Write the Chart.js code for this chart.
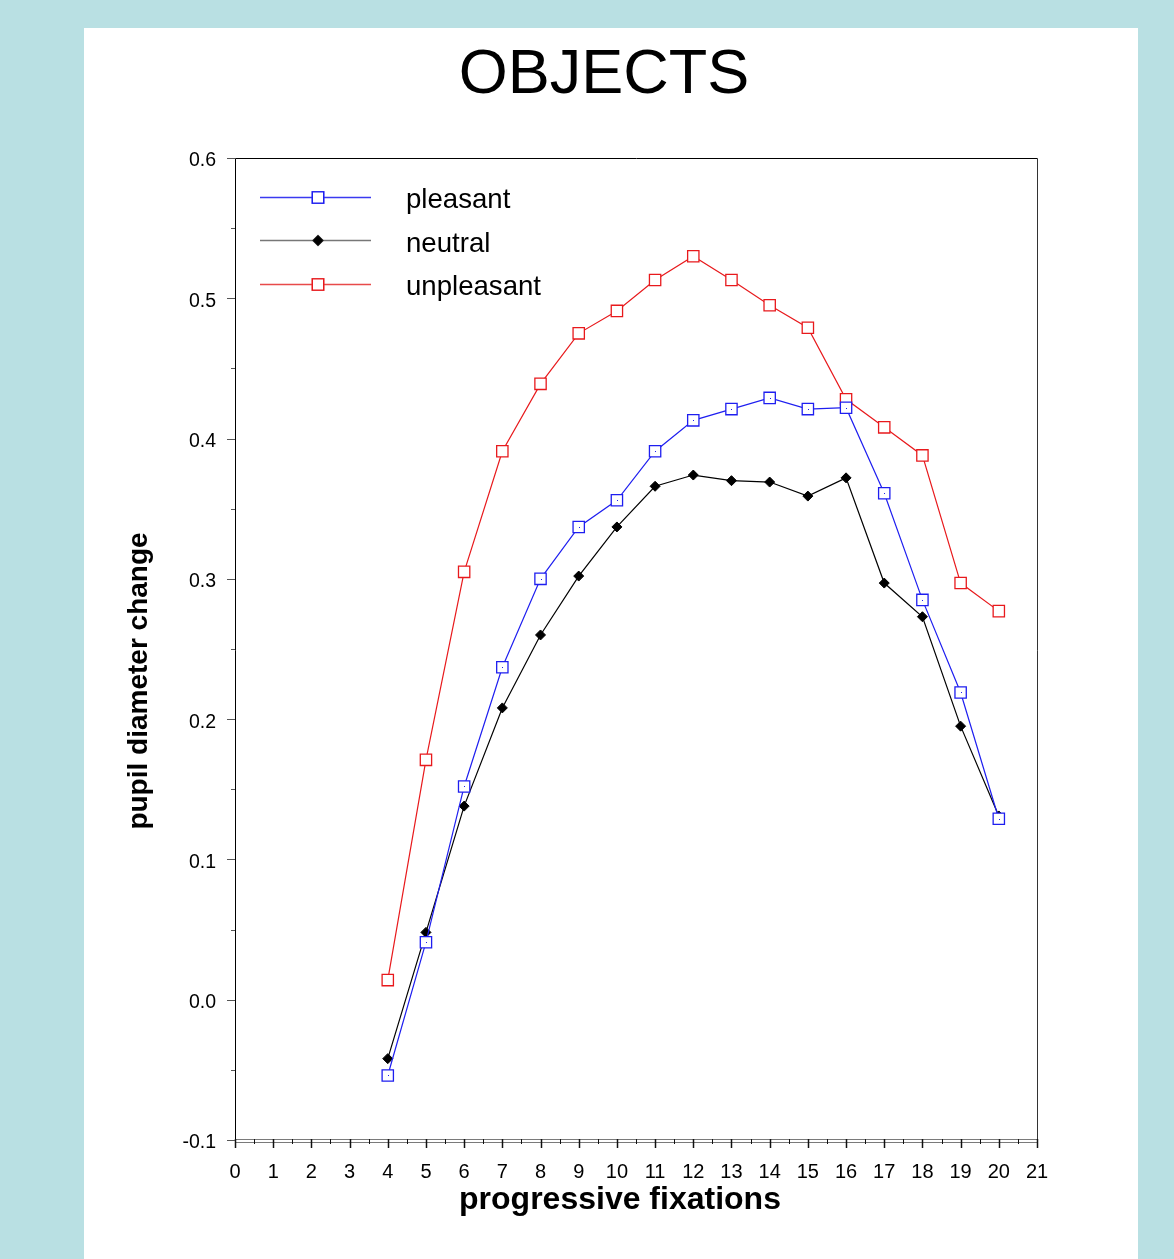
<!DOCTYPE html>
<html>
<head>
<meta charset="utf-8">
<title>OBJECTS</title>
<style>
  html, body { margin: 0; padding: 0; background: #b9e0e3; }
  #wrap { position: relative; width: 1174px; height: 1259px; }
  canvas { display: block; }
</style>
<script src="https://cdn.jsdelivr.net/npm/chart.js@4.4.1/dist/chart.umd.min.js"></script>
</head>
<body>
<div id="wrap"><canvas id="c" width="1174" height="1259"></canvas></div>
<script>
// ---- data ----
const fixations  = [4, 5, 6, 7, 8, 9, 10, 11, 12, 13, 14, 15, 16, 17, 18, 19, 20];
const pleasant   = [-0.054, 0.041, 0.152, 0.237, 0.300, 0.337, 0.356, 0.391, 0.413, 0.421, 0.429, 0.421, 0.422, 0.361, 0.285, 0.219, 0.129];
const neutral    = [-0.042, 0.048, 0.138, 0.208, 0.260, 0.302, 0.337, 0.366, 0.374, 0.370, 0.369, 0.359, 0.372, 0.297, 0.273, 0.195, 0.131];
const unpleasant = [0.014, 0.171, 0.305, 0.391, 0.439, 0.475, 0.491, 0.513, 0.530, 0.513, 0.495, 0.479, 0.428, 0.408, 0.388, 0.297, 0.277];
const seriesNames = ['pleasant', 'neutral', 'unpleasant'];
const xTickValues = [0, 1, 2, 3, 4, 5, 6, 7, 8, 9, 10, 11, 12, 13, 14, 15, 16, 17, 18, 19, 20, 21];
const yTickValues = [-0.1, 0.0, 0.1, 0.2, 0.3, 0.4, 0.5, 0.6];
const chartTitle = 'OBJECTS';
const xTitle = 'progressive fixations';
const yTitle = 'pupil diameter change';

const FONT = '"Liberation Sans", Arial, Helvetica, sans-serif';
const BLUE = '#1e1ef0';
const RED = '#e8191c';
const BLACK = '#000000';

const toPts = arr => arr.map((v, i) => ({ x: fixations[i], y: v }));

// ---- plugins ----
const panelPlugin = {
  id: 'panel',
  beforeDraw(chart) {
    const ctx = chart.ctx;
    ctx.save();
    ctx.fillStyle = '#b9e0e3';
    ctx.fillRect(0, 0, chart.width, chart.height);
    ctx.fillStyle = '#ffffff';
    ctx.fillRect(84, 28, 1054, chart.height - 28);
    ctx.restore();
  }
};

const framePlugin = {
  id: 'frame',
  beforeDatasetsDraw(chart) {
    const ctx = chart.ctx;
    const xs = chart.scales.x, ys = chart.scales.y;
    const L = xs.getPixelForValue(0), R = xs.getPixelForValue(21);
    const T = ys.getPixelForValue(0.6), B = ys.getPixelForValue(-0.1);
    ctx.save();
    ctx.strokeStyle = '#000';
    ctx.lineWidth = 1;
    ctx.beginPath();
    ctx.moveTo(Math.round(L) + 0.5, B + 2);
    ctx.lineTo(Math.round(L) + 0.5, Math.round(T) + 0.5);
    ctx.lineTo(Math.round(R) + 0.5, Math.round(T) + 0.5);
    ctx.stroke();
    ctx.strokeStyle = '#333';
    ctx.beginPath();
    ctx.moveTo(Math.round(R) + 0.5, Math.round(T) + 0.5);
    ctx.lineTo(Math.round(R) + 0.5, B + 3);
    ctx.stroke();
    ctx.strokeStyle = '#7a7a7a';
    ctx.beginPath();
    ctx.moveTo(L, Math.round(B) - 0.5); ctx.lineTo(R, Math.round(B) - 0.5);
    ctx.moveTo(L, Math.round(B) + 2.5); ctx.lineTo(R, Math.round(B) + 2.5);
    ctx.stroke();
    ctx.strokeStyle = '#111';
    for (let v = 0; v <= 21; v += 0.5) {
      const px = Math.round(xs.getPixelForValue(v)) + 0.5;
      const major = Number.isInteger(v);
      ctx.lineWidth = major ? 1.5 : 1;
      ctx.beginPath();
      ctx.moveTo(px, Math.round(B) - 1);
      ctx.lineTo(px, Math.round(B) + (major ? 8 : 4));
      ctx.stroke();
    }
    ctx.strokeStyle = '#555';
    ctx.lineWidth = 1;
    for (let k = -2; k <= 12; k++) {
      const v = k * 0.05;
      const py = Math.round(ys.getPixelForValue(v)) + 0.5;
      const major = (k % 2 === 0);
      ctx.beginPath();
      ctx.moveTo(Math.round(L), py);
      ctx.lineTo(Math.round(L) - (major ? 8 : 4), py);
      ctx.stroke();
    }
    ctx.restore();
  }
};

const dotPlugin = {
  id: 'centerDots',
  afterDatasetsDraw(chart) {
    const ctx = chart.ctx;
    const meta = chart.getDatasetMeta(0);
    ctx.save();
    ctx.fillStyle = BLUE;
    meta.data.forEach(pt => { ctx.fillRect(Math.round(pt.x), Math.round(pt.y), 1, 1); });
    ctx.restore();
  }
};

const textPlugin = {
  id: 'axisTexts',
  afterDraw(chart) {
    const ctx = chart.ctx;
    ctx.save();
    ctx.fillStyle = '#000';
    ctx.font = 'bold 32px ' + FONT;
    ctx.textAlign = 'center';
    ctx.textBaseline = 'middle';
    ctx.fillText(xTitle, 620, 1200);
    ctx.translate(139, 681);
    ctx.rotate(-Math.PI / 2);
    ctx.font = 'bold 28px ' + FONT;
    ctx.fillText(yTitle, 0, 0);
    ctx.restore();
  }
};

const legendPlugin = {
  id: 'innerLegend',
  afterDraw(chart) {
    const ctx = chart.ctx;
    const rows = [
      { y: 197, ty: 200.5, lineColor: '#3a3af0', ds: 0 },
      { y: 240, ty: 244, lineColor: '#777777', ds: 1 },
      { y: 284, ty: 287.5, lineColor: '#e84a4a', ds: 2 }
    ];
    ctx.save();
    rows.forEach(r => {
      const ds = chart.data.datasets[r.ds];
      ctx.strokeStyle = r.lineColor;
      ctx.lineWidth = 1.5;
      ctx.beginPath();
      ctx.moveTo(260, r.y + 0.5);
      ctx.lineTo(371, r.y + 0.5);
      ctx.stroke();
      Chart.helpers.drawPoint(ctx, {
        pointStyle: ds.pointStyle,
        radius: ds.pointRadius,
        borderWidth: ds.pointBorderWidth
      }, 318, r.y + 0.5);
      ctx.fillStyle = ds.pointBackgroundColor;
      ctx.strokeStyle = ds.pointBorderColor;
      ctx.lineWidth = ds.pointBorderWidth;
      ctx.fill();
      ctx.stroke();
      ctx.fillStyle = '#000';
      ctx.font = '27.6px ' + FONT;
      ctx.textAlign = 'left';
      ctx.textBaseline = 'middle';
      ctx.fillText(ds.label, 406, r.ty);
    });
    ctx.restore();
  }
};

// ---- chart ----
new Chart(document.getElementById('c'), {
  type: 'line',
  data: {
    datasets: [
      {
        label: seriesNames[0], data: toPts(pleasant),
        borderColor: BLUE, borderWidth: 1.2,
        pointStyle: 'rect', pointRadius: 8, pointBorderWidth: 1.3,
        pointBorderColor: BLUE, pointBackgroundColor: '#ffffff'
      },
      {
        label: seriesNames[1], data: toPts(neutral),
        borderColor: BLACK, borderWidth: 1.2,
        pointStyle: 'rectRot', pointRadius: 5, pointBorderWidth: 1,
        pointBorderColor: BLACK, pointBackgroundColor: BLACK
      },
      {
        label: seriesNames[2], data: toPts(unpleasant),
        borderColor: RED, borderWidth: 1.2,
        pointStyle: 'rect', pointRadius: 8, pointBorderWidth: 1.3,
        pointBorderColor: RED, pointBackgroundColor: '#ffffff'
      }
    ]
  },
  options: {
    responsive: false,
    animation: false,
    devicePixelRatio: 1,
    layout: { padding: { left: 171, right: 137, top: 0, bottom: 0 } },
    elements: { line: { tension: 0 } },
    plugins: {
      legend: { display: false },
      tooltip: { enabled: false },
      title: {
        display: true,
        text: chartTitle,
        color: '#000',
        font: { family: FONT, size: 63, weight: 'normal', lineHeight: 1.2 },
        padding: { top: 38, bottom: 44.4 }
      }
    },
    scales: {
      x: {
        type: 'linear',
        min: 0, max: 21,
        afterBuildTicks: s => { s.ticks = xTickValues.map(v => ({ value: v })); },
        afterFit: s => { s.height = 119; },
        grid: { display: false, drawTicks: false },
        border: { display: false },
        ticks: {
          color: '#000', padding: 20, maxRotation: 0, autoSkip: false,
          font: { family: FONT, size: 20 },
          callback: v => String(v)
        }
      },
      y: {
        type: 'linear',
        min: -0.1, max: 0.6,
        afterBuildTicks: s => { s.ticks = yTickValues.map(v => ({ value: v })); },
        afterFit: s => { s.width = 64; },
        grid: { display: false, drawTicks: false },
        border: { display: false },
        ticks: {
          color: '#000', padding: 19, autoSkip: false, labelOffset: 3,
          font: { family: FONT, size: 19.5 },
          callback: v => Number(v).toFixed(1)
        }
      }
    }
  },
  plugins: [panelPlugin, framePlugin, dotPlugin, textPlugin, legendPlugin]
});
</script>
</body>
</html>
